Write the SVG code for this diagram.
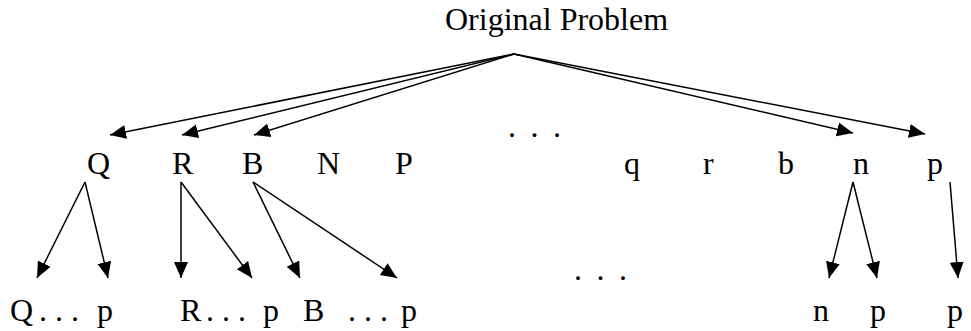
<svg xmlns="http://www.w3.org/2000/svg" width="971" height="331" viewBox="0 0 971 331">
<style>
text{font-family:'Liberation Serif','Times New Roman',serif;font-size:32px;fill:#000}
.e{fill:none;stroke:#000;stroke-width:1.5;marker-end:url(#ah)}
.d{letter-spacing:3.25px}
</style>
<defs>
<marker id="ah" markerUnits="userSpaceOnUse" markerWidth="18" markerHeight="15" refX="16" refY="7" orient="auto">
<path d="M0,0 L16,7 L0,14 z" fill="#000"/>
</marker>
</defs>
<rect width="971" height="331" fill="#fff"/>
<g id="connectors">
<line class="e" x1="514" y1="54" x2="110" y2="135"/>
<line class="e" x1="514" y1="54" x2="182" y2="135"/>
<line class="e" x1="514" y1="54" x2="254" y2="135"/>
<line class="e" x1="514" y1="54" x2="853" y2="133"/>
<line class="e" x1="514" y1="54" x2="925" y2="134"/>
<line class="e" x1="85" y1="182" x2="37" y2="278"/>
<line class="e" x1="85" y1="182" x2="108" y2="278"/>
<line class="e" x1="181" y1="182" x2="181" y2="278"/>
<line class="e" x1="181" y1="182" x2="252" y2="278"/>
<line class="e" x1="253" y1="182" x2="300" y2="278"/>
<line class="e" x1="253" y1="182" x2="397" y2="278"/>
<line class="e" x1="853" y1="182" x2="829" y2="278"/>
<line class="e" x1="853" y1="182" x2="877" y2="278"/>
<line class="e" x1="950" y1="182" x2="958" y2="278"/>
</g>
<g id="root"><text x="445" y="30">Original Problem</text></g>
<g id="n-Q"><text x="87" y="174">Q</text></g>
<g id="n-R"><text x="172" y="174">R</text></g>
<g id="n-B"><text x="242" y="174">B</text></g>
<g id="n-N"><text x="317" y="174">N</text></g>
<g id="n-P"><text x="395" y="174">P</text></g>
<g id="n-dots1"><text class="d" x="508" y="137" xml:space="preserve">. . .</text></g>
<g id="n-q"><text x="624" y="174">q</text></g>
<g id="n-r"><text x="703" y="174">r</text></g>
<g id="n-b"><text x="778" y="174">b</text></g>
<g id="n-n"><text x="853" y="174">n</text></g>
<g id="n-p"><text x="927" y="174">p</text></g>
<g id="c-Q"><text x="10" y="321">Q</text><text x="39" y="321" xml:space="preserve">. . .</text><text x="97" y="321">p</text></g>
<g id="c-R"><text x="180" y="321">R</text><text x="206" y="321" xml:space="preserve">. . .</text><text x="263" y="321">p</text></g>
<g id="c-B"><text x="303" y="321">B</text><text x="348" y="321" xml:space="preserve">. . .</text><text x="401" y="321">p</text></g>
<g id="c-dots"><text class="d" x="574" y="280" xml:space="preserve">. . .</text></g>
<g id="c-n"><text x="813" y="321">n</text><text x="870" y="321">p</text></g>
<g id="c-p"><text x="947" y="321">p</text></g>
</svg>
